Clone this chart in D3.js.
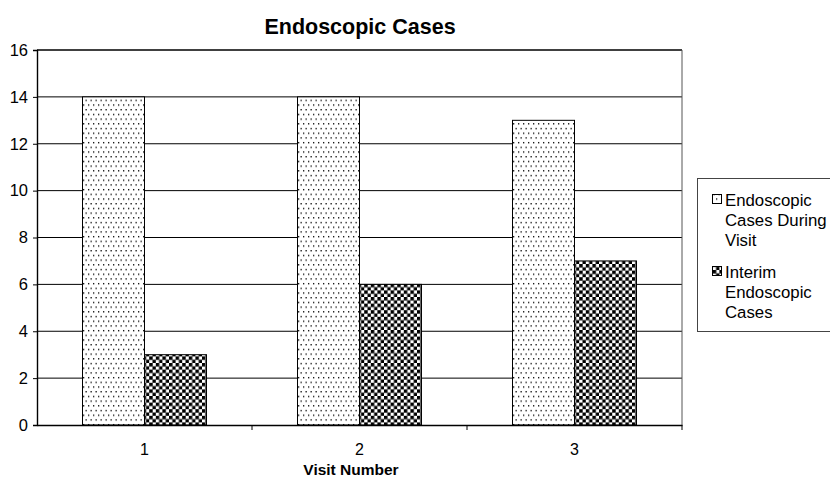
<!DOCTYPE html>
<html lang="en">
<head>
<meta charset="UTF-8">
<script src="https://d3js.org/d3.v7.min.js"></script>
<title>Endoscopic Cases</title>
<style>
body { margin: 0; background: #fff; }
svg { font-family: "Liberation Sans", Arial, sans-serif; }
</style>
</head>
<body>
<svg id="canvas" width="830" height="479"></svg>
<script>
    // data
    let visits = ['1', '2', '3'];
    let seriesNames = ['During', 'Interim'];
    let duringVisit = [14, 14, 13];
    let interimCases = [3, 6, 7];
    let yTicks = [0, 2, 4, 6, 8, 10, 12, 14, 16];
    let legendLabels = [
        ['Endoscopic', 'Cases During', 'Visit'],
        ['Interim', 'Endoscopic', 'Cases']
    ];

    let svg = d3.select('#canvas');
    let plotLeft = 37, plotRight = 682, plotTop = 50, plotBottom = 425;
    let fontName = '"Liberation Sans", Arial, sans-serif';

    // fill patterns: dots and checkerboard
    let defs = svg.append('defs');
    let dots = defs.append('pattern')
        .attr('id', 'dots')
        .attr('patternUnits', 'userSpaceOnUse')
        .attr('width', 5).attr('height', 9.4);
    dots.append('rect').attr('width', 5).attr('height', 9.4).attr('fill', '#fff');
    dots.append('rect').attr('x', 1).attr('y', 1).attr('width', 1.3).attr('height', 1.3).attr('fill', '#000');
    dots.append('rect').attr('x', 3.5).attr('y', 5.7).attr('width', 1.3).attr('height', 1.3).attr('fill', '#000');

    let checks = defs.append('pattern')
        .attr('id', 'checks')
        .attr('patternUnits', 'userSpaceOnUse')
        .attr('width', 6.6).attr('height', 6.6);
    checks.append('rect').attr('width', 6.6).attr('height', 6.6).attr('fill', '#fff');
    checks.append('rect').attr('width', 3.5).attr('height', 3.5).attr('fill', '#000');
    checks.append('rect').attr('x', 3.3).attr('y', 3.3).attr('width', 3.5).attr('height', 3.5).attr('fill', '#000');

    let fills = { During: 'url(#dots)', Interim: 'url(#checks)' };

    let x0 = d3.scaleBand().domain(visits).range([plotLeft, plotRight]);
    let x1 = d3.scaleBand().domain(seriesNames).range([0, x0.bandwidth()]).paddingOuter(0.734);
    let y = d3.scaleLinear().domain([0, 16]).range([plotBottom, plotTop]);

    // gridlines
    svg.append('g')
        .selectAll('line')
        .data(yTicks.filter(t => t > 0))
        .enter()
        .append('line')
        .attr('x1', plotLeft).attr('x2', plotRight)
        .attr('y1', t => y(t)).attr('y2', t => y(t))
        .attr('stroke', '#000').attr('stroke-width', (t) => t === 16 ? 1.6 : 1);

    // right border of plot area
    svg.append('line')
        .attr('x1', plotRight).attr('x2', plotRight)
        .attr('y1', plotTop).attr('y2', plotBottom)
        .attr('stroke', '#555').attr('stroke-width', 1);

    // bars
    let rows = visits.map((v, i) => ({ visit: v, During: duringVisit[i], Interim: interimCases[i] }));
    svg.append('g')
        .selectAll('g')
        .data(rows)
        .enter()
        .append('g')
        .attr('transform', d => 'translate(' + x0(d.visit) + ',0)')
        .selectAll('rect')
        .data(d => seriesNames.map(s => ({ key: s, value: d[s] })))
        .enter()
        .append('rect')
        .attr('x', d => x1(d.key))
        .attr('width', x1.bandwidth())
        .attr('y', d => y(d.value))
        .attr('height', d => y(0) - y(d.value))
        .attr('fill', d => fills[d.key])
        .attr('stroke', '#000')
        .attr('stroke-width', 1);

    // axes
    let yAxis = svg.append('g')
        .attr('transform', 'translate(' + plotLeft + ',0)')
        .call(d3.axisLeft(y).tickValues(yTicks).tickSize(4).tickPadding(5));
    yAxis.attr('font-size', null).attr('font-family', null);
    yAxis.selectAll('text').style('font-size', '16.5px').attr('fill', '#000').style('font-family', fontName);
    yAxis.select('.domain').attr('stroke', '#000').attr('stroke-width', 1.4);

    let xAxis = svg.append('g')
        .attr('transform', 'translate(0,' + plotBottom + ')')
        .call(d3.axisBottom(x0).tickSize(0).tickPadding(19));
    xAxis.attr('font-size', null).attr('font-family', null);
    xAxis.select('.domain').attr('stroke', '#000').attr('stroke-width', 1.6);
    xAxis.selectAll('text').style('font-size', '16px').attr('fill', '#000').style('font-family', fontName);

    // tick marks between categories
    svg.append('g')
        .selectAll('line')
        .data(visits)
        .enter()
        .append('line')
        .attr('x1', d => x0(d) + x0.bandwidth()).attr('x2', d => x0(d) + x0.bandwidth())
        .attr('y1', plotBottom).attr('y2', plotBottom + 5)
        .attr('stroke', '#000');

    // titles
    svg.append('text')
        .attr('x', 360).attr('y', 34)
        .attr('text-anchor', 'middle')
        .style('font-size', '21.5px').attr('font-weight', 'bold')
        .text('Endoscopic Cases');

    svg.append('text')
        .attr('x', 351).attr('y', 475)
        .attr('text-anchor', 'middle')
        .style('font-size', '15.5px').attr('font-weight', 'bold')
        .text('Visit Number');

    // legend
    let legend = svg.append('g');
    legend.append('rect')
        .attr('x', 697.5).attr('y', 178.5)
        .attr('width', 140).attr('height', 153)
        .attr('fill', '#fff').attr('stroke', '#444').attr('stroke-width', 1);

    seriesNames.forEach((s, i) => {
        let g = legend.append('g').attr('transform', 'translate(0,' + (i * 72) + ')');
        g.append('rect')
            .attr('x', 712.5).attr('y', 194.5)
            .attr('width', 9).attr('height', 9)
            .attr('fill', fills[s]).attr('stroke', '#000');
        g.selectAll('text')
            .data(legendLabels[i])
            .enter()
            .append('text')
            .attr('x', 725)
            .attr('y', (d, j) => 206 + j * 20)
            .style('font-size', '16.8px')
            .text(d => d);
    });
</script>
</body>
</html>
